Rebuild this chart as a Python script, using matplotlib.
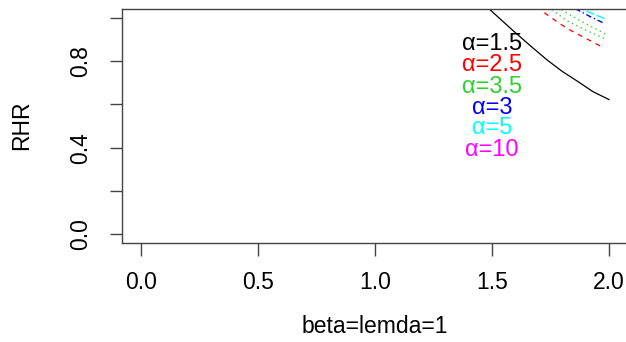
import matplotlib
matplotlib.use("Agg")
import matplotlib.pyplot as plt

plt.rcParams['font.family'] = ['Liberation Sans', 'DejaVu Sans']

# curves (parts above 1.04 are clipped by the box)
x_a15 = [1.40, 1.491, 1.59, 1.662, 1.735, 1.80, 1.87, 1.932, 2.0]
y_a15 = [1.13, 1.037, 0.94, 0.872, 0.805, 0.752, 0.703, 0.658, 0.622]

x_a25 = [1.65, 1.705, 1.735, 1.79, 1.838, 1.902, 1.975]
y_a25 = [1.07, 1.037, 1.014, 0.972, 0.94, 0.904, 0.862]

x_a35 = [1.72, 1.756, 1.82, 1.906, 1.99]
y_a35 = [1.06, 1.037, 0.986, 0.94, 0.899]

x_a3g = [1.78, 1.803, 1.876, 1.99]
y_a3g = [1.05, 1.032, 0.986, 0.922]

x_a3 = [1.84, 1.863, 1.919, 1.983]
y_a3 = [1.05, 1.037, 1.005, 0.972]

x_a5 = [1.86, 1.889, 1.983]
y_a5 = [1.05, 1.037, 0.995]

labels = ["α=1.5", "α=2.5", "α=3.5", "α=3", "α=5", "α=10"]
label_cols = ["black", "red", "#2ed02e", "blue", "cyan", "magenta"]
label_y = [0.88, 0.78, 0.68, 0.585, 0.49, 0.39]

fig = plt.figure(figsize=(6.26, 3.42), dpi=100)
ax = fig.add_axes([0.1954, 0.2895, 0.8074, 0.6842])

ax.plot(x_a15, y_a15, color="black", lw=0.9)
ax.plot(x_a25, y_a25, color="red", lw=0.9, dashes=(4, 4))
ax.plot(x_a35, y_a35, color="#2ed02e", lw=1.0, dashes=(1, 2.5))
ax.plot(x_a3g, y_a3g, color="#2ed02e", lw=1.0, dashes=(1, 2.5))
ax.plot(x_a3, y_a3, color="blue", lw=1.0, dashes=(1, 2, 4, 2))
ax.plot(x_a5, y_a5, color="cyan", lw=1.0, dashes=(6, 2))

for t, c, yy in zip(labels, label_cols, label_y):
    ax.text(1.5, yy, t, color=c, fontsize=17, ha="center", va="center")

ax.set_xlim(-0.08, 2.08)
ax.set_ylim(-0.04, 1.04)
ax.set_xticks([0.0, 0.5, 1.0, 1.5, 2.0])
ax.set_xticklabels(["0.0", "0.5", "1.0", "1.5", "2.0"])
ax.set_yticks([0.0, 0.2, 0.4, 0.6, 0.8, 1.0])
ax.set_yticklabels(["0.0", "", "0.4", "", "0.8", ""], rotation=90, va="center")
ax.tick_params(direction="out", length=9, width=1, color="#444444",
               labelsize=16.5, pad=11)
ax.tick_params(axis="y", pad=13)
for s in ax.spines.values():
    s.set_color("#444444")
    s.set_linewidth(1)

fig.text(0.599, 0.044, "beta=lemda=1", fontsize=16.5, ha="center", va="center")
fig.text(0.035, 0.635, "RHR", fontsize=16.5, ha="center", va="center", rotation=90)

fig.savefig("out.png", dpi=100)
